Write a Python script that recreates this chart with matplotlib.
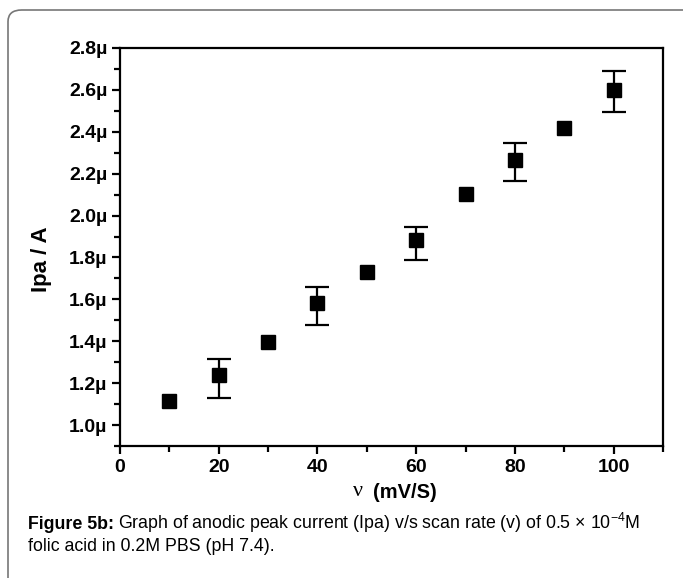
import matplotlib
matplotlib.use("Agg")
import matplotlib.pyplot as plt
from matplotlib.patches import FancyBboxPatch
from matplotlib.ticker import MultipleLocator, FuncFormatter

scan_rate = [10, 20, 30, 40, 50, 60, 70, 80, 90, 100]
ipa = [1.116, 1.239, 1.395, 1.585, 1.733, 1.882, 2.105, 2.265, 2.419, 2.600]
err_low = [0.0, 0.112, 0.0, 0.109, 0.0, 0.096, 0.0, 0.099, 0.0, 0.104]
err_high = [0.0, 0.075, 0.0, 0.072, 0.0, 0.062, 0.0, 0.082, 0.0, 0.090]

W, H = 683, 578
plt.rcParams['font.family'] = ['Liberation Sans', 'DejaVu Sans']
fig = plt.figure(figsize=(W / 100, H / 100), dpi=100)

# outer rounded frame (extends beyond right/bottom edges)
frame = FancyBboxPatch((8 / W, 1 - 10 / H - 700 / H), 700 / W, 700 / H,
                       boxstyle="round,pad=0,rounding_size=0.02",
                       transform=fig.transFigure, fill=False,
                       edgecolor='#777777', linewidth=1.2)
fig.patches.append(frame)

ax = fig.add_axes([120 / W, 1 - 446 / H, (663 - 120) / W, (446 - 48) / H])

# markers for every point
ax.plot(scan_rate, ipa, 's', color='black', markersize=10.5, zorder=3)
# error bars only where measured
idx = [i for i in range(len(scan_rate)) if err_low[i] > 0 or err_high[i] > 0]
ax.errorbar([scan_rate[i] for i in idx], [ipa[i] for i in idx],
            yerr=[[err_low[i] for i in idx], [err_high[i] for i in idx]],
            fmt='none', ecolor='black', elinewidth=1.6, capsize=8.3,
            capthick=1.6, zorder=2)

ax.set_xlim(0, 110)
ax.set_ylim(0.9, 2.8)
ax.xaxis.set_major_locator(MultipleLocator(20))
ax.xaxis.set_minor_locator(MultipleLocator(10))
ax.yaxis.set_major_locator(MultipleLocator(0.2))
ax.yaxis.set_minor_locator(MultipleLocator(0.1))
ax.yaxis.set_major_formatter(FuncFormatter(lambda v, p: f"{v:.1f}\u00b5"))

for s in ax.spines.values():
    s.set_linewidth(1.6)
ax.tick_params(which='major', direction='out', length=6, width=1.6,
               labelsize=14, pad=3)
ax.tick_params(which='minor', direction='out', length=4, width=1.6)
ax.tick_params(top=False, right=False, which='both')
for lab in ax.get_xticklabels() + ax.get_yticklabels():
    lab.set_fontweight('bold')

ax.set_ylabel("Ipa / A", fontsize=16, fontweight='bold')
ax.yaxis.set_label_coords(-0.125, 0.47)

# x label: serif nu + bold sans text
fig.text(363 / W, 1 - 492 / H, "\u03bd", fontsize=16, family='Liberation Serif',
         ha='right', va='center')
fig.text(373 / W, 1 - 492 / H, "(mV/S)", fontsize=14.5, fontweight='bold',
         ha='left', va='center')

# caption
y1, y2 = 529, 551
t1 = fig.text(28 / W, 1 - y1 / H, "Figure 5b:", fontsize=12.8, fontweight='bold',
              ha='left', va='baseline')
fig.canvas.draw()
r = fig.canvas.get_renderer()
bb = t1.get_window_extent(r)
fig.text((bb.x1 + 4) / W, 1 - y1 / H,
         "Graph of anodic peak current (Ipa) v/s scan rate (v) of 0.5 \u00d7 10$^{\\mathregular{-4}}$M",
         fontsize=12.8, ha='left', va='baseline')
fig.text(28 / W, 1 - y2 / H, "folic acid in 0.2M PBS (pH 7.4).", fontsize=12.8,
         ha='left', va='baseline')

fig.savefig("out.png", dpi=100)
